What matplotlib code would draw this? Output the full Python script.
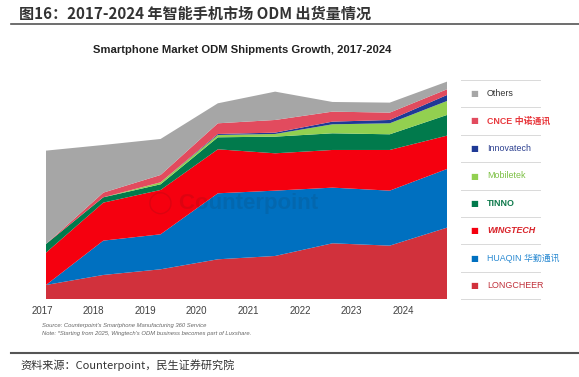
"""
Smartphone ODM shipments stacked area, 2017-2024 (Counterpoint).
"""

import numpy as np
import matplotlib
matplotlib.use("Agg")
import matplotlib.pyplot as plt

plt.rcParams["font.family"] = ["Liberation Sans", "Noto Sans CJK SC", "DejaVu Sans"]

# ── Data (relative shipment volumes) ────────────────────────────
years = [2017, 2018, 2019, 2020, 2021, 2022, 2023, 2024]
year_labels = [str(y) for y in years]

longcheer = [43, 73, 90, 120, 130, 168, 161, 215]
huaqin = [0, 103, 105, 198, 196, 167, 165, 176]
wingtech = [97, 114, 133, 132, 112, 113, 122, 100]
tinno = [26, 16, 17, 36, 50, 50, 47, 62]
mobiletek = [0, 0, 6, 7, 8, 27, 33, 42]
innovatech = [0, 0, 0, 3, 4, 8, 10, 18]
cnce = [0, 14, 22, 32, 38, 30, 22, 17]
others = [280, 143, 108, 60, 85, 29, 30, 23]

series = [longcheer, huaqin, wingtech, tinno, mobiletek, innovatech, cnce, others]
colors = ["#d1313c", "#0070c0", "#f5000f", "#017a4c", "#92d050",
          "#1f3a96", "#e24b5e", "#a6a6a6"]

# legend, top to bottom: (label, text colour, weight, style)
legend_rows = [
    ("Others", "#333333", "normal", "normal"),
    ("CNCE 中诺通讯", "#e8383d", "bold", "normal"),
    ("Innovatech", "#2b3f8f", "normal", "normal"),
    ("Mobiletek", "#7cc043", "normal", "normal"),
    ("TINNO", "#0f7a4c", "bold", "normal"),
    ("WINGTECH", "#d9232a", "bold", "italic"),
    ("HUAQIN 华勤通讯", "#2a8ad2", "normal", "normal"),
    ("LONGCHEER", "#c0303a", "normal", "normal"),
]
legend_colors = colors[::-1]

W, H = 579, 377
fig = plt.figure(figsize=(W / 100, H / 100), dpi=100)


def fx(px):
    return px / W


def fy(py):
    return 1 - py / H


# ── Area chart ──────────────────────────────────────────────────
ax_l, ax_r, ax_t, ax_b = 40, 450, 75, 299.3
ax = fig.add_axes([fx(ax_l), fy(ax_b), fx(ax_r - ax_l), (ax_b - ax_t) / H])
ax.stackplot(years, *series, colors=colors, linewidth=0)
px_per_year = (447 - 46) / 7
ax.set_xlim(2017 - (46 - ax_l) / px_per_year, 2024 + (ax_r - 447) / px_per_year)
ax.set_ylim(0, (ax_b - ax_t) * 3)
ax.set_xticks([])
ax.set_yticks([])
for s in ax.spines.values():
    s.set_visible(False)
ax.patch.set_alpha(0)

# year labels sit on their own spacing in the original graphic
ax2 = ax.twiny()
lab_step = 51.57
ax2.set_xlim((ax_l - 42) / lab_step, (ax_r - 42) / lab_step)
ax2.xaxis.set_ticks_position("bottom")
ax2.set_xticks(range(len(year_labels)))
ax2.set_xticklabels(year_labels, fontsize=7, color="#404040")
ax2.tick_params(axis="x", length=0, pad=5)
ax2.set_yticks([])
for s in ax2.spines.values():
    s.set_visible(False)

# watermark
ax.text(0.47, 0.43, "◯ Counterpoint", transform=ax.transAxes, fontsize=16,
        fontweight="bold", color="#202020", alpha=0.11, ha="center",
        va="center", zorder=5, family=["Liberation Sans", "DejaVu Sans"])

# ── Legend (drawn by hand, with row separators) ─────────────────
row_lines = [80, 107, 135, 162, 190, 217, 244, 272, 299]
for i, (label, tcol, weight, style) in enumerate(legend_rows):
    yc = (row_lines[i] + row_lines[i + 1]) / 2
    fig.text(fx(474), fy(yc), "■", color=legend_colors[i], fontsize=6,
             ha="center", va="center", family="DejaVu Sans")
    fig.text(fx(487), fy(yc), label, color=tcol, fontsize=6.4,
             fontweight=weight, style=style, ha="left", va="center",
             family=["Liberation Sans", "Noto Sans CJK SC"])
for y in row_lines:
    fig.add_artist(plt.Line2D([fx(461), fx(540)], [fy(y), fy(y)],
                              color="#d9d9d9", lw=0.7))

# ── Titles and notes ────────────────────────────────────────────
fig.text(fx(19), fy(14), "图16：2017-2024 年智能手机市场 ODM 出货量情况",
         fontsize=10.9, fontweight="bold", color="#333333", ha="left",
         va="center", family=["Noto Sans CJK SC", "DejaVu Sans"])
fig.add_artist(plt.Line2D([fx(11), 1], [fy(23.5), fy(23.5)],
                          color="#555555", lw=1.2))

fig.text(fx(242), fy(50), "Smartphone Market ODM Shipments Growth, 2017-2024",
         fontsize=8.1, fontweight="bold", color="#222222", ha="center",
         va="center")

fig.text(fx(42), fy(326), "Source: Counterpoint's Smartphone Manufacturing 360 Service",
         fontsize=4.2, style="italic", color="#666666", ha="left", va="center")
fig.text(fx(42), fy(333), "Note: *Starting from 2025, Wingtech's ODM business becomes part of Luxshare.",
         fontsize=4.2, style="italic", color="#666666", ha="left", va="center")

fig.add_artist(plt.Line2D([fx(11), 1], [fy(353), fy(353)],
                          color="#555555", lw=1.5))
fig.text(fx(20), fy(365), "资料来源：Counterpoint，民生证券研究院",
         fontsize=8, color="#333333", ha="left", va="center",
         family=["Noto Sans CJK SC", "DejaVu Sans"])

fig.savefig("out.png", dpi=100)
plt.close(fig)
